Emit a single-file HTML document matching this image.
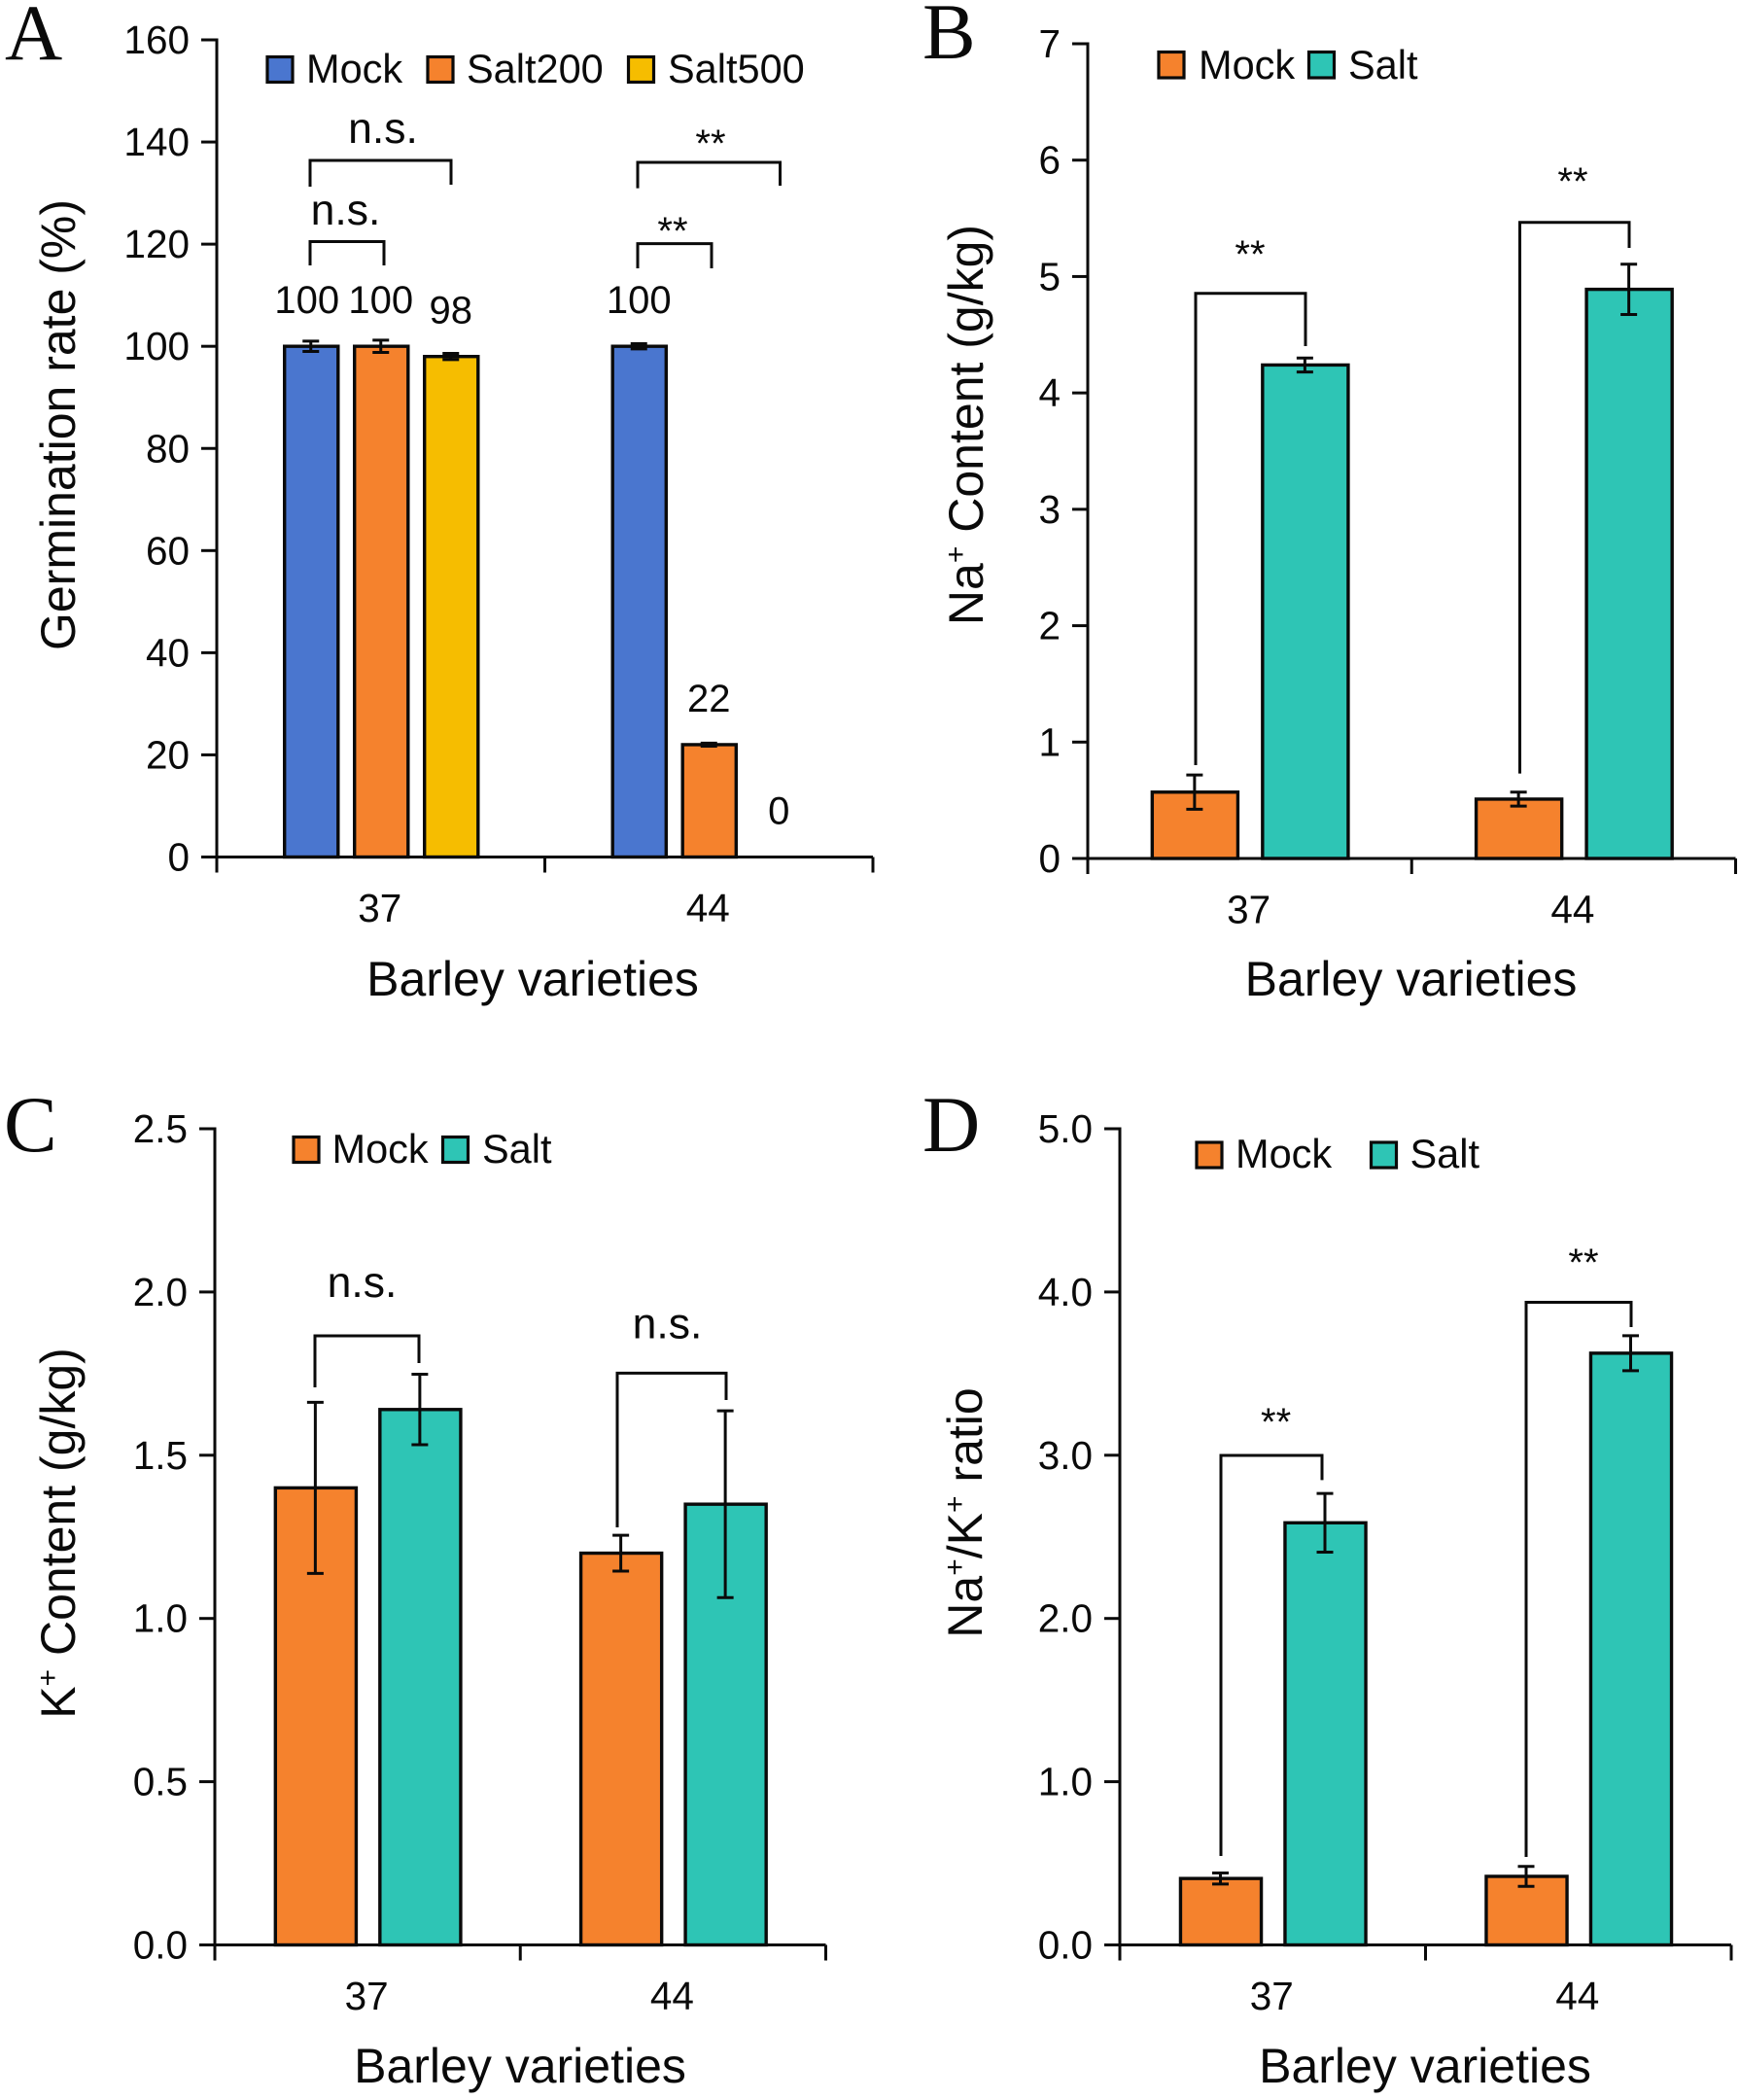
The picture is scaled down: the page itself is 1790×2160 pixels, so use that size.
<!DOCTYPE html>
<html lang="en">
<head>
<meta charset="utf-8">
<title>Barley germination and ion content</title>
<style>
html,body{margin:0;padding:0;background:#fff;}
svg{display:block;}
text{font-family:"Liberation Sans",sans-serif;fill:#0a0a0a;}
.letter{font-family:"Liberation Serif",serif;font-size:82px;}
.title{font-size:50px;text-anchor:middle;}
.leg{font-size:41.500px;}
.ns{font-size:44.500px;text-anchor:middle;}
.star{font-size:40px;text-anchor:middle;}
.sw{stroke:#0a0a0a;stroke-width:3.200;}
.br{fill:none;stroke:#0a0a0a;stroke-width:3;}
</style>
</head>
<body>
<svg id="fig" width="1790" height="2160" viewBox="0 0 1790 2160" xmlns="http://www.w3.org/2000/svg">
  <rect x="0" y="0" width="1790" height="2160" fill="#fff"/>

  <!-- Panel A -->
  <g>
    <g id="marks-a"></g>
    <text class="letter" x="5" y="61">A</text>
    <text class="title" transform="translate(77,437) rotate(-90)">Germination rate (%)</text>
    <text class="title" x="548" y="1024">Barley varieties</text>
    <g>
      <rect class="sw" x="275" y="58.500" width="26" height="26" fill="#4a76cf"/>
      <text class="leg" x="315" y="85">Mock</text>
      <rect class="sw" x="440" y="58.500" width="26" height="26" fill="#f5822d"/>
      <text class="leg" x="480" y="85">Salt200</text>
      <rect class="sw" x="646.500" y="58.500" width="26" height="26" fill="#f6bd00"/>
      <text class="leg" x="687" y="85">Salt500</text>
    </g>
    <path class="br" d="M319 192V165H464V190"/>
    <path class="br" d="M319 273V248.500H395V273"/>
    <path class="br" d="M656 193.600V167H802.500V191"/>
    <path class="br" d="M656 276V250.600H732V276"/>
    <text class="ns" x="394" y="147">n.s.</text>
    <text class="ns" x="355.500" y="231">n.s.</text>
    <text class="star" x="731" y="161">**</text>
    <text class="star" x="692" y="251">**</text>
  </g>

  <!-- Panel B -->
  <g>
    <g id="marks-b"></g>
    <text class="letter" x="949" y="60">B</text>
    <text class="title" transform="translate(1011,437) rotate(-90)">Na<tspan font-size="30" dy="-18">+</tspan><tspan dy="18"> Content (g/kg)</tspan></text>
    <text class="title" x="1451.500" y="1024">Barley varieties</text>
    <g>
      <rect class="sw" x="1192" y="53.500" width="26" height="26.500" fill="#f5822d"/>
      <text class="leg" x="1233" y="81">Mock</text>
      <rect class="sw" x="1346.500" y="53.500" width="26" height="26.500" fill="#2ec5b5"/>
      <text class="leg" x="1387" y="81">Salt</text>
    </g>
    <path class="br" d="M1230 787V301.700H1343V356"/>
    <path class="br" d="M1563.500 795.600V228.700H1676V255"/>
    <text class="star" x="1286" y="275">**</text>
    <text class="star" x="1618" y="200">**</text>
  </g>

  <!-- Panel C -->
  <g>
    <g id="marks-c"></g>
    <text class="letter" x="4" y="1184">C</text>
    <text class="title" transform="translate(77,1577) rotate(-90)">K<tspan font-size="30" dy="-18">+</tspan><tspan dy="18"> Content (g/kg)</tspan></text>
    <text class="title" x="535" y="2142">Barley varieties</text>
    <g>
      <rect class="sw" x="302" y="1169.500" width="26" height="26" fill="#f5822d"/>
      <text class="leg" x="341.500" y="1196">Mock</text>
      <rect class="sw" x="455.500" y="1169.500" width="26" height="26" fill="#2ec5b5"/>
      <text class="leg" x="496" y="1196">Salt</text>
    </g>
    <path class="br" d="M324 1427V1374H431V1402"/>
    <path class="br" d="M635 1571V1412.400H747V1440"/>
    <text class="ns" x="372.500" y="1334">n.s.</text>
    <text class="ns" x="686.500" y="1376.600">n.s.</text>
  </g>

  <!-- Panel D -->
  <g>
    <g id="marks-d"></g>
    <text class="letter" x="949" y="1184">D</text>
    <text class="title" transform="translate(1010,1556) rotate(-90)">Na<tspan font-size="30" dy="-18">+</tspan><tspan dy="18">/K</tspan><tspan font-size="30" dy="-18">+</tspan><tspan dy="18"> ratio</tspan></text>
    <text class="title" x="1466" y="2142">Barley varieties</text>
    <g>
      <rect class="sw" x="1231" y="1175" width="26" height="26" fill="#f5822d"/>
      <text class="leg" x="1271" y="1201">Mock</text>
      <rect class="sw" x="1410.500" y="1175" width="26" height="26" fill="#2ec5b5"/>
      <text class="leg" x="1450.500" y="1201">Salt</text>
    </g>
    <path class="br" d="M1256 1909V1497H1360V1522.400"/>
    <path class="br" d="M1570 1910V1339.500H1678V1365"/>
    <text class="star" x="1312.600" y="1476">**</text>
    <text class="star" x="1629" y="1312">**</text>
  </g>
</svg>

<script>
const categories = ['37', '44'];

// Panel A: germination rate (%)
const aTicks = ['0', '20', '40', '60', '80', '100', '120', '140', '160'];
const aMock = [100, 100];
const aSalt200 = [100, 22];
const aSalt500 = [98, 0];
const aMockErr = [1, 0.5];
const aSalt200Err = [1.2, 0.3];
const aSalt500Err = [0.6, 0];

// Panel B: Na+ content (g/kg)
const bTicks = ['0', '1', '2', '3', '4', '5', '6', '7'];
const bMock = [0.57, 0.51];
const bSalt = [4.24, 4.89];
const bMockErr = [0.147, 0.06];
const bSaltErr = [0.06, 0.216];

// Panel C: K+ content (g/kg)
const cTicks = ['0.0', '0.5', '1.0', '1.5', '2.0', '2.5'];
const cMock = [1.40, 1.20];
const cSalt = [1.64, 1.35];
const cMockErr = [0.262, 0.055];
const cSaltErr = [0.108, 0.286];

// Panel D: Na+/K+ ratio
const dTicks = ['0.0', '1.0', '2.0', '3.0', '4.0', '5.0'];
const dMock = [0.407, 0.42];
const dSalt = [2.586, 3.625];
const dMockErr = [0.034, 0.061];
const dSaltErr = [0.18, 0.107];

const BLUE = '#4a76cf', ORANGE = '#f5822d', YELLOW = '#f6bd00', TEAL = '#2ec5b5', INK = '#0a0a0a';
const NS = 'http://www.w3.org/2000/svg';

function add(parent, tag, name, attrs, text) {
  const el = document.createElementNS(NS, tag);
  
  
  for (const k in attrs) el.setAttribute(k, attrs[k]);
  if (text !== undefined) el.textContent = text;
  parent.appendChild(el);
  return el;
}

function line(parent, name, x1, y1, x2, y2, w) {
  return add(parent, 'line', name, {x1: x1, y1: y1, x2: x2, y2: y2, stroke: INK, 'stroke-width': w || 3});
}

function drawPanel(p) {
  const root = document.getElementById(p.target);
  const max = parseFloat(p.ticks[p.ticks.length - 1]);
  const yScale = v => p.y0 - (v / max) * (p.y0 - p.yTop);
  const bandW = (p.x1 - p.x0) / categories.length;
  const groupX = g => p.x0 + (g + 0.5) * bandW;
  const n = p.series.length;
  const barX = (g, s) => groupX(g) + (s - (n - 1) / 2) * p.step;

  // bars
  p.series.forEach((ser, s) => {
    categories.forEach((cat, g) => {
      const top = yScale(ser.values[g]);
      add(root, 'rect', 'bar-' + cat + '-' + ser.name, {
        x: barX(g, s) - (p.barW - 3.4) / 2 + 0.5, y: top,
        width: p.barW - 3.4, height: Math.max(0, p.y0 - top),
        fill: ser.color, stroke: INK, 'stroke-width': 3.4
      });
    });
  });

  // error bars
  p.series.forEach((ser, s) => {
    categories.forEach((cat, g) => {
      const cx = barX(g, s);
      const hi = yScale(ser.values[g] + ser.errors[g]);
      const lo = yScale(ser.values[g] - ser.errors[g]);
      line(root, 'error-stem-' + cat + '-' + ser.name, cx, hi, cx, lo);
      line(root, 'error-cap-top-' + cat + '-' + ser.name, cx - 8.5, hi, cx + 8.5, hi);
      line(root, 'error-cap-bottom-' + cat + '-' + ser.name, cx - 8.5, lo, cx + 8.5, lo);
    });
  });

  // y axis
  line(root, 'y-axis-line', p.x0, p.yTop - 1.5, p.x0, p.y0 + 1.5);
  p.ticks.forEach(label => {
    const y = yScale(parseFloat(label));
    line(root, 'y-tick-' + label, p.x0 - 16, y, p.x0, y);
    add(root, 'text', 'y-tick-label-' + label, {
      x: p.x0 - 28, y: y + 14, 'text-anchor': 'end', 'font-size': 40.5
    }, label);
  });

  // x axis
  line(root, 'x-axis-line', p.x0, p.y0, p.x1, p.y0);
  for (let i = 0; i <= categories.length; i++) {
    const x = p.x0 + i * bandW;
    line(root, 'x-tick-' + i, x, p.y0, x, p.y0 + 16);
  }
  categories.forEach((cat, g) => {
    add(root, 'text', 'x-tick-label-' + cat, {
      x: groupX(g) - 1, y: p.y0 + 66.5, 'text-anchor': 'middle', 'font-size': 40.5
    }, cat);
  });

  // printed values above the bars
  if (p.printValues) {
    p.series.forEach((ser, s) => {
      categories.forEach((cat, g) => {
        const nudge = (g === 0 && s === 0) ? -4 : 0;
        add(root, 'text', 'value-label-' + cat + '-' + ser.name, {
          x: barX(g, s) + nudge, y: yScale(ser.values[g]) - 34,
          'text-anchor': 'middle', 'font-size': 40
        }, String(ser.values[g]));
      });
    });
  }
}

drawPanel({
  target: 'marks-a', x0: 223, x1: 898, yTop: 41, y0: 881.5, ticks: aTicks,
  barW: 58.5, step: 72, printValues: true,
  series: [
    {name: 'mock', values: aMock, errors: aMockErr, color: BLUE},
    {name: 'salt200', values: aSalt200, errors: aSalt200Err, color: ORANGE},
    {name: 'salt500', values: aSalt500, errors: aSalt500Err, color: YELLOW}
  ]
});
drawPanel({
  target: 'marks-b', x0: 1119, x1: 1785.5, yTop: 45, y0: 883, ticks: bTicks,
  barW: 91.5, step: 113.5,
  series: [
    {name: 'mock', values: bMock, errors: bMockErr, color: ORANGE},
    {name: 'salt', values: bSalt, errors: bSaltErr, color: TEAL}
  ]
});
drawPanel({
  target: 'marks-c', x0: 221, x1: 849.5, yTop: 1161, y0: 2000.5, ticks: cTicks,
  barW: 86.5, step: 107.5,
  series: [
    {name: 'mock', values: cMock, errors: cMockErr, color: ORANGE},
    {name: 'salt', values: cSalt, errors: cSaltErr, color: TEAL}
  ]
});
drawPanel({
  target: 'marks-d', x0: 1152, x1: 1781, yTop: 1161, y0: 2000.5, ticks: dTicks,
  barW: 86.5, step: 107.5,
  series: [
    {name: 'mock', values: dMock, errors: dMockErr, color: ORANGE},
    {name: 'salt', values: dSalt, errors: dSaltErr, color: TEAL}
  ]
});
</script>
</body>
</html>
